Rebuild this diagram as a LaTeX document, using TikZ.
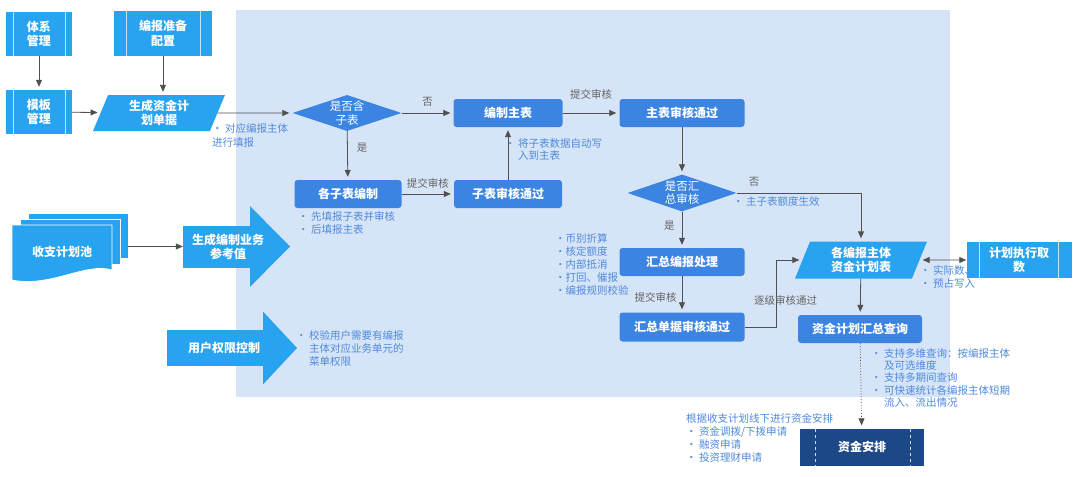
\documentclass[tikz,border=0pt]{standalone}
\usepackage{fontspec}
\setmainfont{Noto Sans CJK SC}
\usepackage{xcolor}
\usetikzlibrary{shapes.geometric}
\usetikzlibrary{arrows.meta}
\usetikzlibrary{calc}

\definecolor{bgblue}{RGB}{214,228,247}
\definecolor{procblue}{RGB}{40,163,240}
\definecolor{stepblue}{RGB}{59,132,226}
\definecolor{noteblue}{RGB}{78,138,220}
\definecolor{labelgrey}{RGB}{100,100,100}
\definecolor{linegrey}{RGB}{80,80,80}
\definecolor{navy}{RGB}{28,72,135}

\tikzset{
  boxfont/.style={font=\fontsize{12}{14.5}\selectfont\bfseries},
  procbox/.style={rectangle, fill=procblue, text=white, boxfont, align=center, inner sep=0pt,
    path picture={
      \draw[white, opacity=.7, line width=.6pt]
        ($(path picture bounding box.north west)+(#1pt,0)$) -- ($(path picture bounding box.south west)+(#1pt,0)$)
        ($(path picture bounding box.north east)-(#1pt,0)$) -- ($(path picture bounding box.south east)-(#1pt,0)$);}},
  procbox/.default=10,
  stepbox/.style={rectangle, rounded corners=3pt, fill=stepblue, text=white, boxfont, align=center,
    inner sep=0pt, minimum height=28pt},
  databox/.style={trapezium, trapezium left angle=60, trapezium right angle=120, trapezium stretches body,
    fill=procblue, text=white, boxfont, align=center, inner sep=0pt, minimum height=36pt},
  choice/.style={diamond, aspect=3, fill=stepblue, text=white, align=center, inner sep=0pt,
    font=\fontsize{11.5}{13.5}\selectfont, minimum width=109pt, minimum height=36pt},
  arrowbody/.style={rectangle, fill=procblue, inner sep=0pt},
  bigtext/.style={text=white, boxfont, align=center, inner sep=0pt},
  note/.style={text=noteblue, anchor=north west, align=left, inner sep=0pt,
    font=\fontsize{10.5}{13}\selectfont},
  tag/.style={text=labelgrey, inner sep=1pt, font=\fontsize{10.5}{12}\selectfont},
  flow/.style={draw=linegrey, line width=.8pt, -{Triangle[length=7pt,width=6pt]}, shorten >=3pt},
}
\newcommand{\hang}{\phantom{• }}

\begin{document}
\begin{tikzpicture}[x=1pt,y=-1pt]
  %%% CANVAS %%%
  \useasboundingbox (0,0) rectangle (1080,477);
  \fill[white] (0,0) rectangle (1080,477);
  \fill[bgblue] (236,10) rectangle (950,397);

  %%% LEFT COLUMN %%%
  \node[procbox=7, minimum width=66pt, minimum height=44pt] (system) at (39,34) {体系\\管理};
  \node[procbox=12, minimum width=98pt, minimum height=45pt] (prep) at (163,33.5) {编报准备\\配置};
  \node[procbox=7, minimum width=66pt, minimum height=44pt] (template) at (39,112) {模板\\管理};
  \node[databox, minimum width=132pt] (gendoc) at (159,113) {生成资金计\\划单据};

  %%% PLAN POOL & BIG ARROWS %%%
  \node[arrowbody, draw=white, line width=.8pt, minimum width=100pt, minimum height=45pt] (poolback) at (78,235.5) {};
  \fill[procblue, draw=white, line width=.8pt] (20,219) rectangle (120,264);
  \fill[procblue, draw=white, line width=.8pt] (12,225) -- (112,225) -- (112,270)
    .. controls (86,262) and (50,288) .. (12,280) -- cycle;
  \node[bigtext] (pool) at (62,252) {收支计划池};

  \node[arrowbody, minimum width=67pt, minimum height=42pt] (refval) at (216.5,246.5) {};
  \fill[procblue] (refval.north east) -- ++(0,-19) -- (290,246.5) -- ($(refval.south east)+(0,19)$) -- cycle;
  \node[bigtext] (refvaltext) at (228,247) {生成编制业务\\参考值};

  \node[arrowbody, minimum width=96pt, minimum height=36pt] (authctl) at (215,348) {};
  \fill[procblue] (authctl.north east) -- ++(0,-18) -- (297,348) -- ($(authctl.south east)+(0,18)$) -- cycle;
  \node[bigtext] (authtext) at (224,348) {用户权限控制};

  %%% MAIN FLOW %%%
  \node[choice] (hassub) at (347,113) {是否含\\子表};
  \node[stepbox, minimum width=109pt] (mainform) at (508,113) {编制主表};
  \node[stepbox, minimum width=125pt] (mainok) at (682,113) {主表审核通过};
  \node[stepbox, minimum width=107pt] (subedit) at (348,194) {各子表编制};
  \node[stepbox, minimum width=108pt] (subok) at (508,194) {子表审核通过};
  \node[choice, minimum height=37pt] (needsum) at (682,193) {是否汇\\总审核};
  \node[stepbox, minimum width=125pt] (sumproc) at (682,262) {汇总编报处理};
  \node[stepbox, minimum width=125pt, minimum height=29pt] (sumok) at (682,327) {汇总单据审核通过};
  \node[databox, minimum width=132pt, minimum height=37pt] (planform) at (861,260) {各编报主体\\资金计划表};
  \node[stepbox, minimum width=124pt] (summary) at (860,329) {资金计划汇总查询};
  \node[procbox=13, minimum width=105pt, minimum height=36pt] (exec) at (1019,260) {计划执行取\\数};
  \node[rectangle, fill=navy, text=white, boxfont, inner sep=0pt, minimum width=124pt, minimum height=37pt,
    path picture={
      \draw[white, opacity=.8, line width=.6pt, dash pattern=on 3pt off 3pt]
        ($(path picture bounding box.north west)+(15pt,0)$) -- ($(path picture bounding box.south west)+(15pt,0)$)
        ($(path picture bounding box.north east)-(14pt,0)$) -- ($(path picture bounding box.south east)-(14pt,0)$);}]
    (fundarr) at (862,447) {资金安排};

  %%% NOTES %%%
  \node[note, font=\fontsize{10.5}{14}\selectfont] (gendocnote) at (212,123) {• 对应编报主体\\进行填报};
  \node[note, font=\fontsize{10.5}{12.5}\selectfont] (mergenote) at (505,138) {• 将子表数据自动写\\\hang 入到主表};
  \node[note] (subnote) at (298,211) {• 先填报子表并审核\\• 后填报主表};
  \node[note] (quotanote) at (733,196) {• 主子表额度生效};
  \node[note] (sumnote) at (555,233) {•币别折算\\•核定额度\\•内部抵消\\•打回、催报\\•编报规则校验};
  \node[note] (execnote) at (920,265) {• 实际数、\\• 预占写入};
  \node[note] (authnote) at (296,330) {• 校验用户需要有编报\\\hang 主体对应业务单元的\\\hang 菜单权限};
  \node[note, font=\fontsize{10.5}{12.4}\selectfont] (querynote) at (871,348)
    {• 支持多维查询：按编报主体\\\hang 及可选维度\\• 支持多期间查询\\• 可快速统计各编报主体短期\\\hang 流入、流出情况};
  \node[note] (fundnote) at (686,413) {根据收支计划线下进行资金安排\\• 资金调拨/下拨申请\\• 融资申请\\• 投资理财申请};

  %%% CONNECTORS %%%
  \draw[flow] (system) -- (template);
  \draw[flow] (prep.south) -- (prep.south |- gendoc.north);
  \draw[flow] (template) -- (gendoc);
  \draw[flow, shorten >=0pt] (poolback.east |- refval.west) -- (refval.west);
  \draw[flow] (gendoc) -- (hassub);
  \draw[flow] (hassub) -- node[tag, above=5pt] (notag) {否} (mainform);
  \draw[flow] (mainform) -- node[tag, above=12pt] (submittag) {提交审核} (mainok);
  \draw[flow] (hassub) -- node[tag, right=8pt, pos=.35] (yestag) {是} (subedit);
  \draw[flow] (subedit) -- node[tag, above=4pt] (subsubmittag) {提交审核} (subok);
  \draw[flow] (subok) -- (mainform);
  \draw[flow] (mainok) -- (needsum);
  \draw[flow] (needsum.east) -| node[tag, pos=.07, above=5pt] (notag2) {否} (planform.north);
  \draw[flow] (needsum) -- node[tag, left=6pt, pos=.4] (yestag2) {是} (sumproc);
  \draw[flow] (sumproc) -- node[tag, left=4pt, pos=.6] (sumsubmittag) {提交审核} (sumok);
  \draw[flow] (sumok.east) -- ++(32,0) |- node[tag, pos=.2, xshift=9pt] (steptag) {逐级审核通过} (planform.west);
  \draw[flow] (planform) -- (summary);
  \draw[flow, {Triangle[length=7pt,width=6pt]}-{Triangle[length=7pt,width=6pt]}, shorten <=3pt, shorten >=0pt]
    (planform.east) -- (exec.west);
  \draw[flow, dotted] (summary) -- (fundarr);
\end{tikzpicture}
\end{document}
